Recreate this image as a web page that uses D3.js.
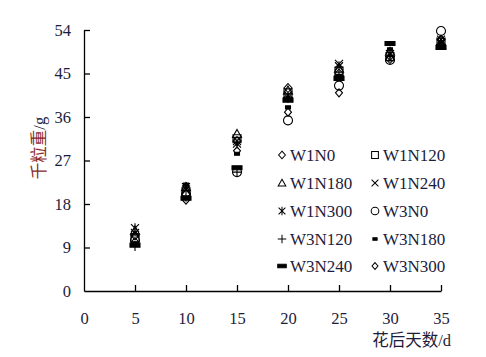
<!DOCTYPE html>
<html><head><meta charset="utf-8">
<script src="https://cdn.jsdelivr.net/npm/d3@7"></script>
<style>body{margin:0;background:#fff}svg{display:block}</style>
</head><body>
<script>
const days = [5, 10, 15, 20, 25, 30, 35];
const seriesNames = ["W1N0","W1N120","W1N180","W1N240","W1N300","W3N0","W3N120","W3N180","W3N240","W3N300"];
const W1N0   = [11.5, 20.0, 31.0, 42.0, 45.0, 48.0, 52.0];
const W1N120 = [11.0, 20.5, 31.5, 41.0, 45.5, 48.5, 51.5];
const W1N180 = [12.5, 21.5, 32.5, 41.5, 46.0, 49.5, 51.0];
const W1N240 = [12.0, 21.0, 31.0, 40.5, 47.0, 49.0, 52.0];
const W1N300 = [13.0, 21.5, 30.5, 40.0, 46.5, 49.0, 51.5];
const W3N0   = [10.5, 20.0, 24.6, 35.3, 42.5, 47.8, 53.8];
const W3N120 = [9.3, 19.5, 24.6, 40.0, 44.5, 48.5, 51.0];
const W3N180 = [9.8, 22.0, 28.4, 38.0, 44.5, 50.0, 51.5];
const W3N240 = [9.5, 19.2, 25.5, 39.5, 44.0, 51.2, 50.4];
const W3N300 = [10.2, 18.8, 29.0, 37.0, 41.0, 48.5, 52.0];
const seriesValues = [W1N0,W1N120,W1N180,W1N240,W1N300,W3N0,W3N120,W3N180,W3N240,W3N300];
const xTicks = [0,5,10,15,20,25,30,35];
const yTicks = [0,9,18,27,36,45,54];
const markers = ["diamond","square","triangle","x","asterisk","circle","plus","dash","bar","diamond2"];

const svg = d3.select("body").append("svg").attr("width",486).attr("height",357);
const x = d3.scaleLinear().domain([0,35]).range([84,441]);
const y = d3.scaleLinear().domain([0,54]).range([291,30]);
const txt = "#1c1c3c";
const font = "'Liberation Serif','Times New Roman',serif";

function shape(type){
  switch(type){
    case "diamond": return {d:"M0,-4.5L4,0L0,4.5L-4,0Z", fill:"none"};
    case "diamond2": return {d:"M0,-4L3.5,0L0,4L-3.5,0Z", fill:"none"};
    case "square": return {d:"M-4,-4H4V4H-4Z", fill:"none"};
    case "triangle": return {d:"M0,-4.5L4.5,3.5H-4.5Z", fill:"none"};
    case "x": return {d:"M-4,-4L4,4M4,-4L-4,4", fill:"none"};
    case "asterisk": return {d:"M-4,-4L4,4M4,-4L-4,4M0,-5V5", fill:"none"};
    case "circle": return {d:"M4.5,0A4.5,4.5 0 1,1 -4.5,0A4.5,4.5 0 1,1 4.5,0Z", fill:"none"};
    case "plus": return {d:"M-5,0H5M0,-5V5", fill:"none"};
    case "dash": return {d:"M-2.5,-1.5H2.5V1.5H-2.5Z", fill:"#000"};
    case "bar": return {d:"M-5,-2H5V2H-5Z", fill:"#000"};
  }
}

// axes
const ya = svg.append("g").attr("transform","translate(84,0)")
  .call(d3.axisLeft(y).tickValues(yTicks).tickSizeInner(-6).tickSizeOuter(0).tickPadding(13));
const xa = svg.append("g").attr("transform","translate(0,291)")
  .call(d3.axisBottom(x).tickValues(xTicks).tickSizeInner(-6).tickSizeOuter(0).tickPadding(21));
[ya,xa].forEach(a=>{
  a.select(".domain").attr("stroke","#000").attr("stroke-width",1.3);
  a.selectAll(".tick line").attr("stroke","#000").attr("stroke-width",1.3);
  a.selectAll(".tick text").attr("font-family",font).attr("font-size",16.5).attr("fill",txt);
});
xa.selectAll(".tick").filter(d=>d===0).select("line").remove();
ya.selectAll(".tick").filter(d=>d===0).select("line").remove();

// points
const g = svg.append("g");
seriesValues.forEach((vals,i)=>{
  const sh = shape(markers[i]);
  g.selectAll(null).data(days.map((d,j)=>({d, v:vals[j]}))).enter().append("path")
    .attr("transform",p=>`translate(${x(p.d)},${y(p.v)})`)
    .attr("d",sh.d).attr("fill",sh.fill).attr("stroke","#000").attr("stroke-width",1.1);
});

// legend
const colX = [282, 375], rowY = [155,183,211,239,266];
seriesNames.forEach((n,i)=>{
  const cx = colX[i%2], cy = rowY[Math.floor(i/2)];
  const sh = shape(markers[i]);
  svg.append("path").attr("transform",`translate(${cx},${cy}) scale(0.85)`)
    .attr("d",sh.d).attr("fill",sh.fill).attr("stroke","#000").attr("stroke-width",1.2);
  svg.append("text").attr("x",cx+8).attr("y",cy+6).attr("font-family",font).attr("font-size",17)
    .attr("fill",txt).text(n);
});

// axis titles
svg.append("text").attr("transform","translate(45,148) rotate(-90)").attr("text-anchor","middle")
  .attr("font-family",font).attr("font-size",16.5).attr("fill",txt)
  .append("tspan").attr("font-family","'Noto Sans CJK SC',sans-serif").attr("fill","#8a2a2a").text("千粒重")
  .select(function(){return this.parentNode;}).append("tspan").text("/g");
svg.append("text").attr("x",451).attr("y",346).attr("text-anchor","end")
  .attr("font-family",font).attr("font-size",16.5).attr("fill",txt)
  .append("tspan").attr("font-family","'Noto Sans CJK SC',sans-serif").text("花后天数")
  .select(function(){return this.parentNode;}).append("tspan").text("/d");
</script>
</body></html>
